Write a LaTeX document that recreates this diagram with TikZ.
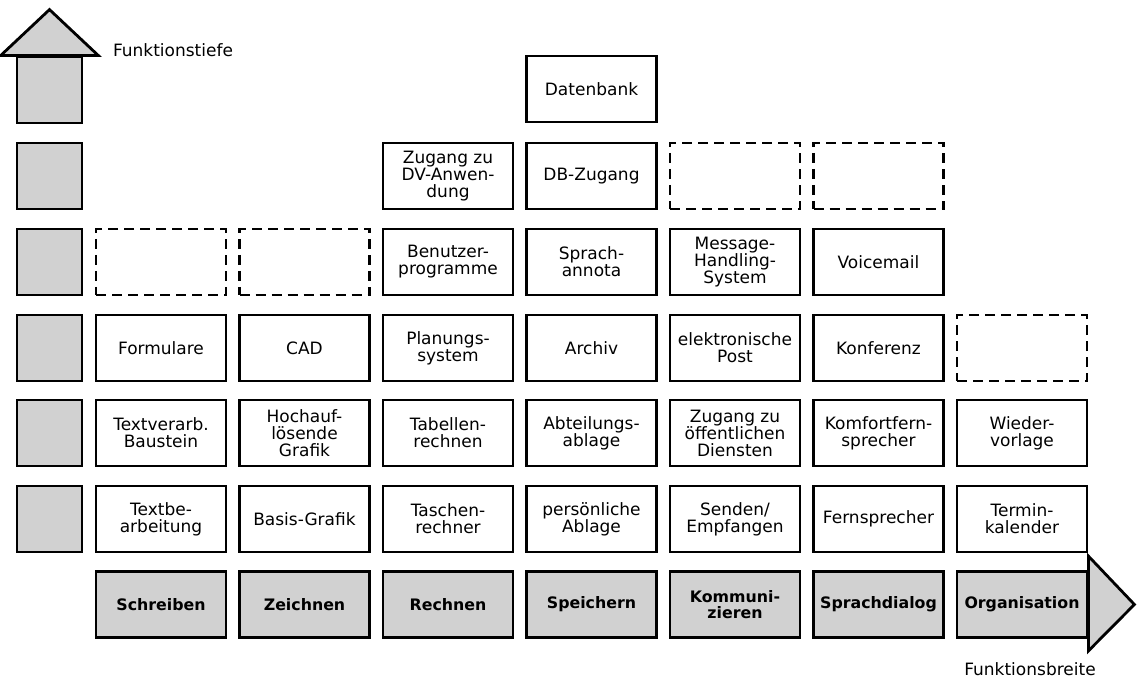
\documentclass[tikz,border=0pt]{standalone}
\usepackage{fontspec}
\setmainfont{DejaVu Sans}
\usetikzlibrary{calc}
\definecolor{shade}{gray}{0.82}
\begin{document}
\begin{tikzpicture}[x=0.5pt,y=-0.5pt,
  every node/.style={font=\fontsize{8.5}{8.5}\selectfont, align=center, inner sep=0pt},
  cell/.style={draw, line width=1.4pt, minimum width=65pt, minimum height=33pt},
  ghost/.style={draw, line width=1.3pt, dash pattern=on 5pt off 3pt, minimum width=65pt, minimum height=33pt},
  basecell/.style={cell, fill=shade, font=\bfseries\fontsize{7.9}{8.3}\selectfont},
  levelbox/.style={draw, line width=1.4pt, fill=shade, minimum width=32.5pt, minimum height=33pt},
  arrowhead/.style={draw, line width=1.4pt, fill=shade, line join=miter},
  axislabel/.style={anchor=base}]
\useasboundingbox (0,0) rectangle (1140,679);

% depth scale on the left
\node[levelbox] (d1) at (49.5,90) {};
\node[levelbox] (d2) at (49.5,176) {};
\node[levelbox] (d3) at (49.5,262) {};
\node[levelbox] (d4) at (49.5,348) {};
\node[levelbox] (d5) at (49.5,433) {};
\node[levelbox] (d6) at (49.5,519) {};
\draw[arrowhead] ($(d1.north west)+(-15,0)$) -- ($(d1.north)+(0,-46)$) -- ($(d1.north east)+(15,0)$) -- cycle;
\node[axislabel] (tiefe) at (173,57) {Funktionstiefe};

% row 1
\node[cell] (datenbank) at (591.5,89) {Datenbank};

% row 2
\node[cell] (dvzugang) at (448,176) {Zugang zu\\DV-Anwen-\\dung};
\node[cell] (dbzugang) at (591.5,176) {DB-Zugang};
\node[ghost] (g25) at (735,176) {};
\node[ghost] (g26) at (878.5,176) {};

% row 3
\node[ghost] (g31) at (161,262) {};
\node[ghost] (g32) at (304.5,262) {};
\node[cell] (benutzer) at (448,262) {Benutzer-\\programme};
\node[cell] (annota) at (591.5,262) {Sprach-\\annota};
\node[cell] (mhs) at (735,262) {Message-\\Handling-\\System};
\node[cell] (voicemail) at (878.5,262) {Voicemail};

% row 4
\node[cell] (formulare) at (161,348) {Formulare};
\node[cell] (cad) at (304.5,348) {CAD};
\node[cell] (planung) at (448,348) {Planungs-\\system};
\node[cell] (archiv) at (591.5,348) {Archiv};
\node[cell] (epost) at (735,348) {elektronische\\Post};
\node[cell] (konferenz) at (878.5,348) {Konferenz};
\node[ghost] (g47) at (1022,348) {};

% row 5
\node[cell] (textverarb) at (161,433) {Textverarb.\\Baustein};
\node[cell] (hochauf) at (304.5,433) {Hochauf-\\lösende\\Grafik};
\node[cell] (tabellen) at (448,433) {Tabellen-\\rechnen};
\node[cell] (abteilung) at (591.5,433) {Abteilungs-\\ablage};
\node[cell] (oeffentlich) at (735,433) {Zugang zu\\öffentlichen\\Diensten};
\node[cell] (komfort) at (878.5,433) {Komfortfern-\\sprecher};
\node[cell] (wieder) at (1022,433) {Wieder-\\vorlage};

% row 6
\node[cell] (textbe) at (161,519) {Textbe-\\arbeitung};
\node[cell] (basisgrafik) at (304.5,519) {Basis-Grafik};
\node[cell] (taschen) at (448,519) {Taschen-\\rechner};
\node[cell] (persoenlich) at (591.5,519) {persönliche\\Ablage};
\node[cell] (senden) at (735,519) {Senden/\\Empfangen};
\node[cell] (fernsprecher) at (878.5,519) {Fernsprecher};
\node[cell] (termin) at (1022,519) {Termin-\\kalender};

% base row: function areas
\node[basecell] (schreiben) at (161,604.5) {Schreiben};
\node[basecell] (zeichnen) at (304.5,604.5) {Zeichnen};
\node[basecell] (rechnen) at (448,604.5) {Rechnen};
\node[basecell] (speichern) at (591.5,604.5) {Speichern};
\node[basecell] (kommunizieren) at (735,604.5) {Kommuni-\\zieren};
\node[basecell] (sprachdialog) at (878.5,604.5) {Sprachdialog};
\node[basecell] (organisation) at (1022,604.5) {Organisation};
\draw[arrowhead] ($(organisation.north east)+(0,-14)$) -- ($(organisation.east)+(46,0)$) -- ($(organisation.south east)+(0,12)$) -- cycle;
\node[axislabel] (breite) at (1030,675) {Funktionsbreite};
\end{tikzpicture}
\end{document}
